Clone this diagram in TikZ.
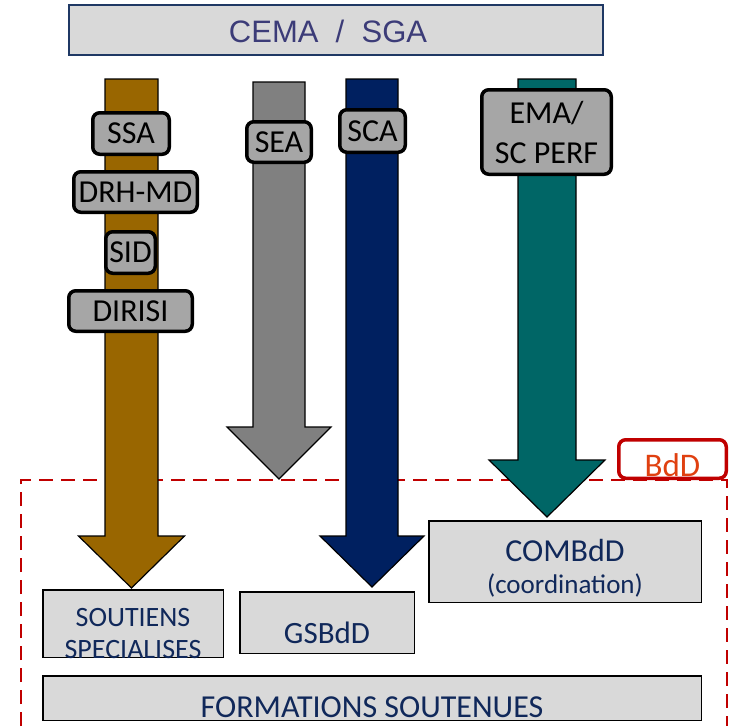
\documentclass[tikz,border=0pt]{standalone}
\usepackage{fontspec}
\setmainfont{Carlito}
\newfontfamily\arialfont{Liberation Sans}
\definecolor{brownarrow}{RGB}{153,102,0}
\definecolor{greyarrow}{RGB}{128,128,128}
\definecolor{navyarrow}{RGB}{0,32,96}
\definecolor{tealarrow}{RGB}{0,102,102}
\definecolor{labelgrey}{RGB}{166,166,166}
\definecolor{boxgrey}{RGB}{217,217,217}
\definecolor{navytext}{RGB}{16,40,90}
\definecolor{cematext}{RGB}{60,60,120}
\definecolor{cemaborder}{RGB}{31,56,100}
\definecolor{bddred}{RGB}{192,0,0}
\definecolor{bddtext}{RGB}{224,64,16}

\begin{document}
\begin{tikzpicture}[x=1pt,y=-1pt,
    lbl/.style={draw=black, line width=3.5pt, rounded corners=7pt, fill=labelgrey,
        inner sep=0pt, align=center, font=\fontsize{32}{40}\selectfont},
    boxe/.style={draw=black, line width=1.5pt, fill=boxgrey, inner sep=0pt},
    boxtxt/.style={text=navytext, align=center, inner sep=0pt}]
            \useasboundingbox (0,0) rectangle (730,726);
            \draw[bddred, line width=2pt, dash pattern=on 14pt off 8pt] (21,726) -- (21,480) -- (727,480) -- (727,726);
            \node[draw=cemaborder, line width=2pt, fill=boxgrey, minimum width=534pt, minimum height=50pt] (cema) at (336,30) {};
            \node[text=cematext, inner sep=0pt, font=\arialfont\fontsize{31}{31}\selectfont] (cema-t) at (328,31) {CEMA~~/~~SGA};
            \foreach \cx/\top/\base/\tip/\sw/\hw/\col in {131.5/79/536/588/26.5/53/brownarrow,
                    279/82/427/479/26/52/greyarrow, 372/79/536/587/26/52/navyarrow, 547/79/460/517/29/58/tealarrow} {
                \draw[fill=\col, line width=1.2pt] ({\cx-\sw},\top) -- ({\cx+\sw},\top) -- ({\cx+\sw},\base) -- ({\cx+\hw},\base)
                    -- (\cx,\tip) -- ({\cx-\hw},\base) -- ({\cx-\sw},\base) -- cycle;
            }
            \node[lbl, minimum width=76.5pt, minimum height=41.5pt] (ssa) at (131,133.5) {SSA};
            \node[lbl, minimum width=123.5pt, minimum height=40.5pt] (drhmd) at (135.5,192) {DRH-MD};
            \node[lbl, minimum width=49.5pt, minimum height=41.5pt] (sid) at (130.5,252.5) {SID};
            \node[lbl, minimum width=123.5pt, minimum height=40.5pt] (dirisi) at (130.5,311) {DIRISI};
            \node[lbl, minimum width=64.5pt, minimum height=40.5pt] (sea) at (279,142) {SEA};
            \node[lbl, minimum width=65.5pt, minimum height=42.5pt] (sca) at (372.5,131) {SCA};
            \node[lbl, minimum width=129.5pt, minimum height=84.5pt] (emaperf) at (546.5,132) {EMA/\\SC PERF};
            \node[boxe, minimum width=180.5pt, minimum height=67.5pt] (soutiens) at (133,623.5) {};
            \node[boxtxt, font=\fontsize{28}{32}\selectfont, yshift=-10pt] (soutiens-t) at (soutiens.center) {SOUTIENS\\SPECIALISES};
            \node[boxe, minimum width=174.5pt, minimum height=61.5pt] (gsbdd) at (327,622.5) {};
            \node[boxtxt, font=\fontsize{31}{31}\selectfont, yshift=-10pt] (gsbdd-t) at (gsbdd.center) {GSBdD};
            \node[boxe, minimum width=272.5pt, minimum height=81.5pt] (combdd) at (565,561.5) {};
            \node[boxtxt, font=\fontsize{32}{32}\selectfont] (combdd-t) at (565,550) {COMBdD};
            \node[boxtxt, font=\fontsize{27}{27}\selectfont] (coord-t) at (565,585) {(coordination)};
            \node[boxe, minimum width=658.5pt, minimum height=44.5pt] (formations) at (372,698) {};
            \node[boxtxt, font=\fontsize{32}{32}\selectfont, yshift=-9pt] (formations-t) at (formations.center) {FORMATIONS SOUTENUES};
            \node[draw=bddred, line width=3.5pt, rounded corners=7pt, fill=white, minimum width=107.5pt, minimum height=38.5pt] (bdd) at (672.5,459) {};
            \node[text=bddtext, inner sep=0pt, font=\fontsize{33}{33}\selectfont, yshift=-6pt] (bdd-t) at (bdd.center) {BdD};
        \end{tikzpicture}
\end{document}
